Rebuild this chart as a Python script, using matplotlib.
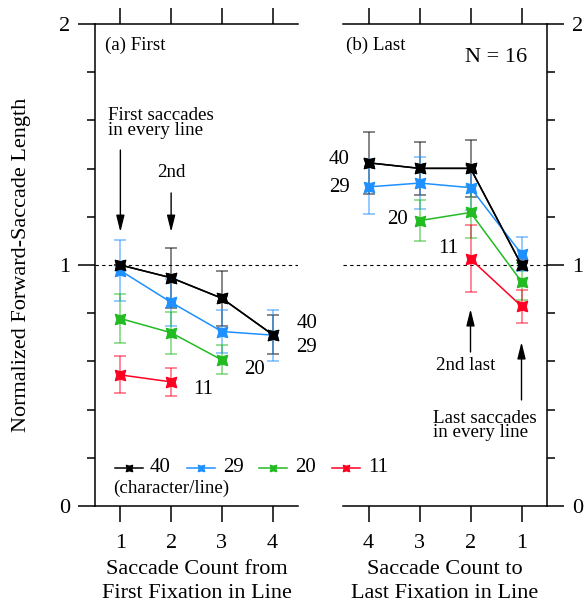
import matplotlib
matplotlib.use("Agg")
import matplotlib.pyplot as plt
from matplotlib.path import Path
from matplotlib.lines import Line2D
import numpy as np

plt.rcParams['font.family'] = ['Liberation Serif', 'DejaVu Serif']
plt.rcParams['mathtext.fontset'] = 'stix'

# ---------------- data ----------------
x_first = [1, 2, 3, 4]
first_40 = [1.000, 0.947, 0.862, 0.711]
first_40_err = [0.0, 0.125, 0.115, 0.081]
first_29 = [0.977, 0.845, 0.724, 0.709]
first_29_err = [0.127, 0.098, 0.091, 0.106]
x_first_20 = [1, 2, 3]
first_20 = [0.778, 0.719, 0.606]
first_20_err = [0.103, 0.088, 0.060]
x_first_11 = [1, 2]
first_11 = [0.544, 0.515]
first_11_err = [0.077, 0.059]

x_last = [4, 3, 2, 1]
last_40 = [1.424, 1.401, 1.401, 1.000]
last_40_err = [0.129, 0.111, 0.118, 0.02]
last_29 = [1.324, 1.340, 1.321, 1.046]
last_29_err = [0.114, 0.107, 0.092, 0.070]
x_last_20 = [3, 2, 1]
last_20 = [1.184, 1.218, 0.931]
last_20_err = [0.084, 0.108, 0.077]
x_last_11 = [2, 1]
last_11 = [1.025, 0.829]
last_11_err = [0.139, 0.068]

series_names = ['40', '29', '20', '11']
colors = {'40': '#000000', '29': '#1e90ff', '20': '#22bb22', '11': '#ff0022'}

W, H = 588, 609
fig = plt.figure(figsize=(W / 100, H / 100), dpi=100)

def fx(x):
    return x / W

def fy(y):
    return 1 - y / H

# concave-square marker
q = 0.72
verts = [(1, 1), (0, q), (-1, 1), (-q, 0), (-1, -1), (0, -q), (1, -1), (q, 0), (1, 1)]
codes = [Path.MOVETO] + [Path.LINETO] * 7 + [Path.CLOSEPOLY]
mk = Path(verts, codes)

axL = fig.add_axes([fx(95), fy(506), fx(298) - fx(95), fy(24) - fy(506)])
axR = fig.add_axes([fx(343), fy(506), fx(547) - fx(343), fy(24) - fy(506)])

FS = 16
MS = 7.5

def draw(ax, x, y, e, c):
    ax.errorbar(x, y, yerr=e, fmt='none', ecolor=c, elinewidth=1.1, capsize=4.3,
                capthick=1.1, alpha=0.6, zorder=2)
    ax.plot(x, y, color=c, lw=1.1, marker=mk, ms=MS, mec=c, mfc=c, mew=0.8, zorder=3)

draw(axL, x_first, first_40, first_40_err, colors['40'])
draw(axL, x_first, first_29, first_29_err, colors['29'])
draw(axL, x_first_20, first_20, first_20_err, colors['20'])
draw(axL, x_first_11, first_11, first_11_err, colors['11'])
axL.plot(x_first, first_40, color='k', lw=1.1, marker=mk, ms=MS, mew=0.8, zorder=4)

draw(axR, x_last, last_40, last_40_err, colors['40'])
draw(axR, x_last, last_29, last_29_err, colors['29'])
draw(axR, x_last_20, last_20, last_20_err, colors['20'])
draw(axR, x_last_11, last_11, last_11_err, colors['11'])
axR.plot(x_last, last_40, color='k', lw=1.1, marker=mk, ms=MS, mew=0.8, zorder=4)

for ax in (axL, axR):
    ax.set_ylim(0, 2)
    ax.axhline(1, color='k', lw=0.8, ls=(0, (3, 3)), zorder=1)
    ax.set_xticks([1, 2, 3, 4])
    ax.set_yticks([0, 1, 2])
    ax.set_yticks(np.arange(0, 2.01, 0.2), minor=True)
    ax.tick_params(axis='x', which='both', direction='out', length=11.5, width=1.1,
                   top=True, bottom=True, labelsize=FS, pad=9)
    ax.tick_params(axis='y', which='major', direction='out', length=12, width=1.1,
                   labelsize=FS, pad=6)
    ax.tick_params(axis='y', which='minor', direction='out', length=6, width=1.1)
    for s in ax.spines.values():
        s.set_linewidth(1.1)

axL.set_xlim(0.5, 4.5)
axR.set_xlim(4.5, 0.5)
axL.spines['right'].set_visible(False)
axR.spines['left'].set_visible(False)
axR.yaxis.tick_right()
axR.tick_params(axis='y', which='both', left=False, right=True)
axL.tick_params(axis='y', which='both', right=False)

axL.set_xlabel('Saccade Count from\nFirst Fixation in Line', fontsize=FS, labelpad=5, linespacing=1.3)
axR.set_xlabel('Saccade Count to\nLast Fixation in Line', fontsize=FS, labelpad=5, linespacing=1.3)
fig.text(fx(22), fy(265), 'Normalized Forward-Saccade Length', rotation=90,
         ha='center', va='center', fontsize=FS)

TS = 13.7
axL.text(0.706, 1.913, '(a) First', fontsize=TS, ha='left', va='center')
axR.text(4.45, 1.913, '(b) Last', fontsize=TS, ha='left', va='center')
axR.text(2.1, 1.863, 'N = 16', fontsize=16, ha='left', va='center')

axL.text(0.765, 1.655, 'First saccades\nin every line', fontsize=TS, ha='left', va='top', linespacing=0.8)
axL.text(2.0, 1.382, '2nd', fontsize=TS, ha='center', va='center')
axR.text(2.1, 0.581, '2nd last', fontsize=TS, ha='center', va='center')
axR.text(2.73, 0.398, 'Last saccades\nin every line', fontsize=TS, ha='left', va='top', linespacing=0.8)

ap = dict(arrowstyle='-|>,head_length=1.0,head_width=0.25', color='k', lw=1.0, shrinkA=0, shrinkB=0)
axL.annotate('', xy=(1, 1.137), xytext=(1, 1.477), arrowprops=ap)
axL.annotate('', xy=(2, 1.137), xytext=(2, 1.299), arrowprops=ap)
axR.annotate('', xy=(2, 0.817), xytext=(2, 0.639), arrowprops=ap)
axR.annotate('', xy=(1, 0.68), xytext=(1, 0.44), arrowprops=ap)

LS = 15
axL.text(4.47, 0.759, '40', fontsize=LS, ha='left', va='center', clip_on=False)
axL.text(4.47, 0.656, '29', fontsize=LS, ha='left', va='center', clip_on=False)
axL.text(3.43, 0.568, '20', fontsize=LS, ha='left', va='center')
axL.text(2.43, 0.485, '11', fontsize=LS, ha='left', va='center')
axR.text(4.37, 1.436, '40', fontsize=LS, ha='right', va='center')
axR.text(4.37, 1.32, '29', fontsize=LS, ha='right', va='center')
axR.text(3.22, 1.187, '20', fontsize=LS, ha='right', va='center')
axR.text(2.24, 1.07, '11', fontsize=LS, ha='right', va='center')

# legend (manual, in figure pixels)
leg_line_x = [(115, 143), (187, 215), (259, 287), (332, 360)]
leg_text_x = [150, 223, 295, 368]
for name, (a, b), tx in zip(series_names, leg_line_x, leg_text_x):
    c = colors[name]
    fig.add_artist(Line2D([fx(a), fx(b)], [fy(468), fy(468)], transform=fig.transFigure,
                          color=c, lw=1.1))
    fig.add_artist(Line2D([fx((a + b) / 2)], [fy(468)], transform=fig.transFigure,
                          color=c, marker=mk, ms=4.5, lw=0))
    fig.text(fx(tx), fy(468), name, fontsize=LS, ha='left', va='center')
fig.text(fx(113), fy(488), '(character/line)', fontsize=TS, ha='left', va='center')

fig.savefig('out.png', dpi=100)
